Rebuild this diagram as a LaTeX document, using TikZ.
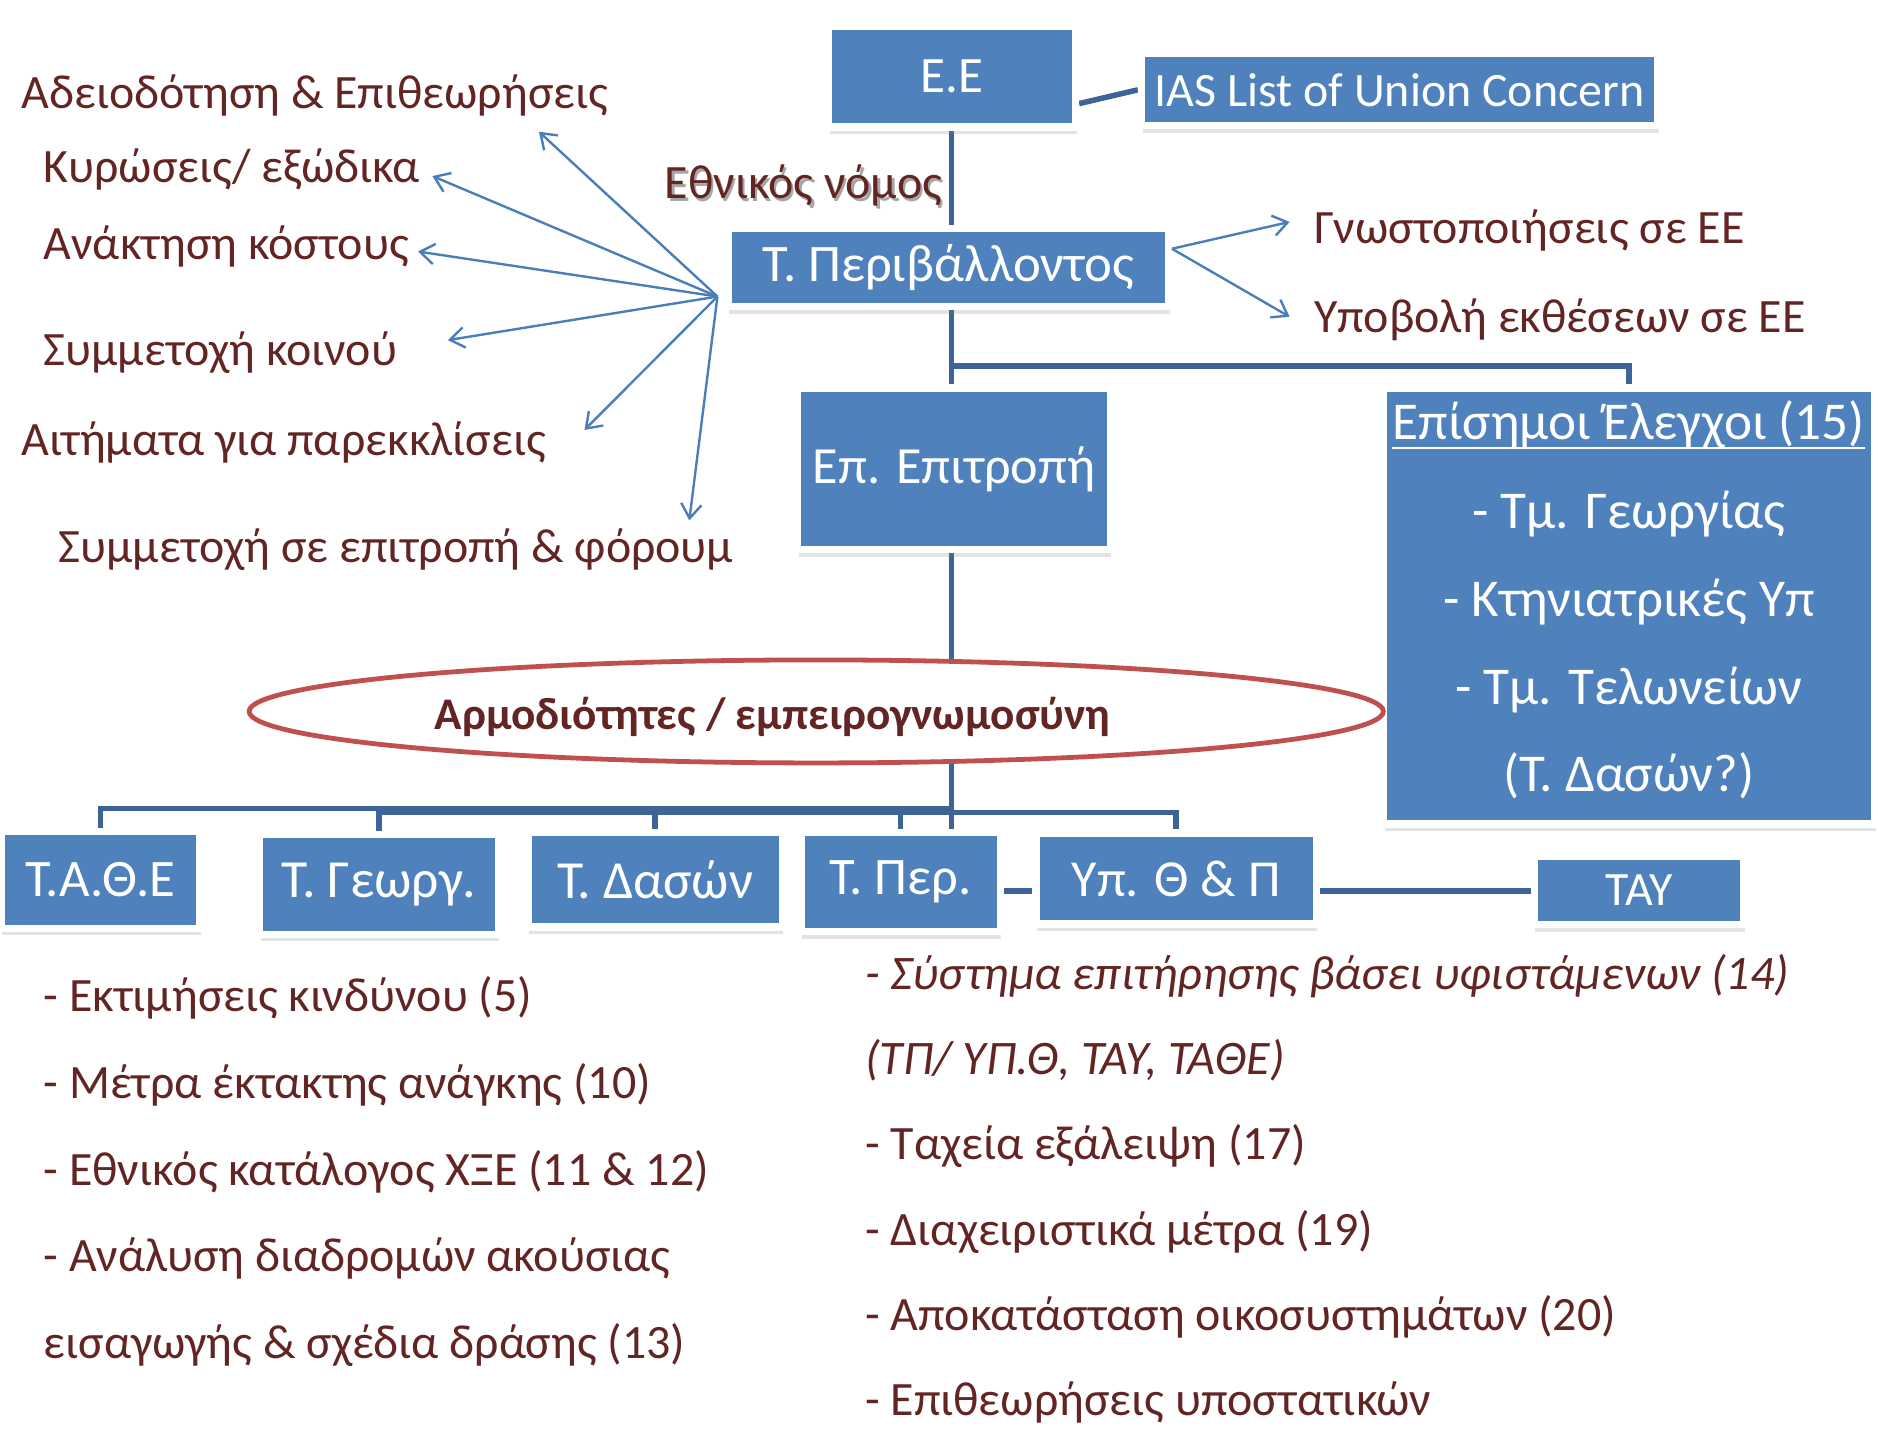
\documentclass[tikz,border=0pt]{standalone}
\usepackage{fontspec}
\setmainfont{Carlito}
\usetikzlibrary{shapes.geometric,arrows.meta,shadows,calc}
\definecolor{boxblue}{HTML}{4F81BD}
\definecolor{linkblue}{HTML}{3C6496}
\definecolor{arrblue}{HTML}{4A7EBB}
\definecolor{txtred}{HTML}{632523}
\definecolor{ellred}{HTML}{C0504D}
\pgfdeclarelayer{background}
\pgfsetlayers{background,main}
\begin{document}
\begin{tikzpicture}[x=0.5pt,y=-0.5pt,
  bx/.style={rectangle, fill=boxblue, draw=white, line width=3pt, inner sep=0pt, text=white,
    font=\fontsize{22}{24}\selectfont,
    drop shadow={shadow xshift=0.5pt, shadow yshift=-3pt, opacity=0.22}},
  lbl/.style={anchor=base west, inner sep=0pt, text=txtred, font=\fontsize{20}{22}\selectfont},
  wtxt/.style={anchor=base, inner sep=0pt, text=white, font=\fontsize{22.2}{24}\selectfont},
  conn/.style={draw=linkblue, line width=2.3pt},
  arr/.style={draw=arrblue, line width=1pt, -{Straight Barb[length=6pt,width=8.5pt]}}]
\useasboundingbox (0,0) rectangle (1568,1202);

% boxes
\node[bx, minimum width=103pt, minimum height=42pt, font=\fontsize{21.3}{23}\selectfont] (ee) at (795,64) {Ε.Ε};
\node[bx, minimum width=215.5pt, minimum height=30pt, font=\fontsize{20}{22}\selectfont] (ias) at (1168.5,75) {IAS List of Union Concern};
\node[bx, minimum width=184pt, minimum height=32.5pt] (tper) at (792,223.5) {Τ. Περιβάλλοντος};
\node[bx, minimum width=130.5pt, minimum height=67.5pt, font=\fontsize{21.8}{24}\selectfont] (epep) at (796.5,391.5) {Επ. Επιτροπή};
\node[bx, minimum width=205pt, minimum height=182pt] (epis) at (1360,506) {};
\node[bx, minimum width=83pt, minimum height=40.5pt] (tathe) at (84,734.5) {Τ.Α.Θ.Ε};
\node[bx, minimum width=99.5pt, minimum height=41.5pt, font=\fontsize{22.4}{24}\selectfont] (tgeo) at (316.5,738.5) {Τ. Γεωργ.};
\node[bx, minimum width=106pt, minimum height=39.5pt, font=\fontsize{22.4}{24}\selectfont] (tdas) at (547,734.5) {Τ. Δασών};
\node[bx, minimum width=83pt, minimum height=41.5pt] (tper2) at (752,736.5) {Τ. Περ.};
\node[bx, minimum width=117pt, minimum height=38pt, font=\fontsize{21.7}{24}\selectfont] (ypthp) at (982,733.5) {Υπ. Θ \& Π};
\node[bx, minimum width=87.5pt, minimum height=28.5pt, font=\fontsize{20}{22}\selectfont] (tay) at (1368.5,743.5) {ΤΑΥ};

% text inside Episimoi box
\node[wtxt] (ep1) at (1360,367) {Επίσημοι Έλεγχοι (15)};
\draw[white, line width=1pt] ([yshift=-3.5pt]ep1.base west) -- ([yshift=-3.5pt]ep1.base east);
\node[wtxt] (ep2) at (1360,441) {- Τμ. Γεωργίας};
\node[wtxt] (ep3) at (1360,515) {- Κτηνιατρικές Υπ};
\node[wtxt] (ep4) at (1360,588.5) {- Τμ. Τελωνείων};
\node[wtxt] (ep5) at (1360,661) {(Τ. Δασών?)};

% connectors
\coordinate (trunk) at (794.5,0);
\coordinate (brY) at (0,305.5);
\coordinate (barA) at (0,675);
\coordinate (barB) at (0,678.5);
\coordinate (lineY) at (0,744);
\begin{pgfonlayer}{background}
\draw[conn] (trunk |- ee.south) -- (trunk |- tper.north);
\draw[conn] (trunk |- tper.south) -- (trunk |- epep.north);
\draw[conn] (trunk |- brY) -- (epis.north |- brY) -- (epis.north);
\draw[conn] (trunk |- epep.south) -- (trunk |- tper2.north);
\draw[conn] (tathe.north) -- (tathe.north |- barA) -- (trunk |- barA);
\draw[conn] (tgeo.north) -- (tgeo.north |- barB) -- (ypthp.north |- barB) -- (ypthp.north);
\draw[conn] (tdas.north) -- (tdas.north |- barB);
\draw[conn] (tper2.north) -- (tper2.north |- barB);
\draw[conn] (tper2.east |- lineY) -- (ypthp.west |- lineY);
\draw[conn] (ypthp.east |- lineY) -- (tay.west |- lineY);
\draw[conn] ($(ee.south east)!0.25!(ee.north east)$) -- (ias.west);
\end{pgfonlayer}

% ellipse
\node[ellipse, draw=ellred, line width=2pt, fill=white, minimum width=473.5pt, minimum height=43pt, inner sep=0pt] (ell) at (681.5,594) {};
\node[anchor=base, inner sep=0pt, text=txtred, font=\fontsize{18.9}{21}\selectfont\bfseries] (elltxt) at (645,609) {Αρμοδιότητες / εμπειρογνωμοσύνη};

% national law label with shadow
\node[lbl, text=black!35] (nomossh) at (556.6,168) {Εθνικός νόμος};
\node[lbl] (nomos) at (554.6,166) {Εθνικός νόμος};

% left labels
\node[lbl] (l1) at (17.5,91) {Αδειοδότηση \& Επιθεωρήσεις};
\node[lbl] (l2) at (36,152.7) {Κυρώσεις/ εξώδικα};
\node[lbl] (l3) at (36,217) {Ανάκτηση κόστους};
\node[lbl] (l4) at (36,305) {Συμμετοχή κοινού};
\node[lbl] (l5) at (17.5,380) {Αιτήματα για παρεκκλίσεις};
\node[lbl] (l6) at (48.5,469.6) {Συμμετοχή σε επιτροπή \& φόρουμ};
\node[lbl] (r1) at (1096.7,203) {Γνωστοποιήσεις σε ΕΕ};
\node[lbl] (r2) at (1096.7,278) {Υποβολή εκθέσεων σε ΕΕ};

% arrows
\coordinate (src) at (599,247.6);
\coordinate (t1) at (450,110);
\coordinate (t2) at (361,147);
\coordinate (t3) at (349,210);
\coordinate (t4) at (374,284);
\coordinate (t5) at (488,359);
\coordinate (t6) at (575.5,434.5);
\draw[arr] (src) -- (t1);
\draw[arr] (src) -- (t2);
\draw[arr] (src) -- (t3);
\draw[arr] (src) -- (t4);
\draw[arr] (src) -- (t5);
\draw[arr] (src) -- (t6);
\coordinate (srcR) at (978.5,207.7);
\coordinate (u1) at (1076.7,185.3);
\coordinate (u2) at (1076.7,264.5);
\draw[arr] (srcR) -- (u1);
\draw[arr] (srcR) -- (u2);

% bottom lists
\node[lbl] (b1) at (36,844.5) {- Εκτιμήσεις κινδύνου (5)};
\node[lbl] (b2) at (36,917) {- Μέτρα έκτακτης ανάγκης (10)};
\node[lbl] (b3) at (36,989.5) {- Εθνικός κατάλογος ΧΞΕ (11 \& 12)};
\node[lbl] (b4) at (36,1062) {- Ανάλυση διαδρομών ακούσιας};
\node[lbl] (b5) at (36,1134.5) {εισαγωγής \& σχέδια δράσης (13)};
\node[lbl, font=\fontsize{20.1}{22}\selectfont\itshape] (c1) at (722,826.5) {- Σύστημα επιτήρησης βάσει υφιστάμενων (14)};
\node[lbl, font=\fontsize{20.1}{22}\selectfont\itshape] (c2) at (722,897.5) {(ΤΠ/ ΥΠ.Θ, ΤΑΥ, ΤΑΘΕ)};
\node[lbl] (c3) at (722,968.5) {- Ταχεία εξάλειψη (17)};
\node[lbl] (c4) at (722,1039.5) {- Διαχειριστικά μέτρα (19)};
\node[lbl] (c5) at (722,1110.5) {- Αποκατάσταση οικοσυστημάτων (20)};
\node[lbl] (c6) at (722,1181.5) {- Επιθεωρήσεις υποστατικών};
\end{tikzpicture}
\end{document}
